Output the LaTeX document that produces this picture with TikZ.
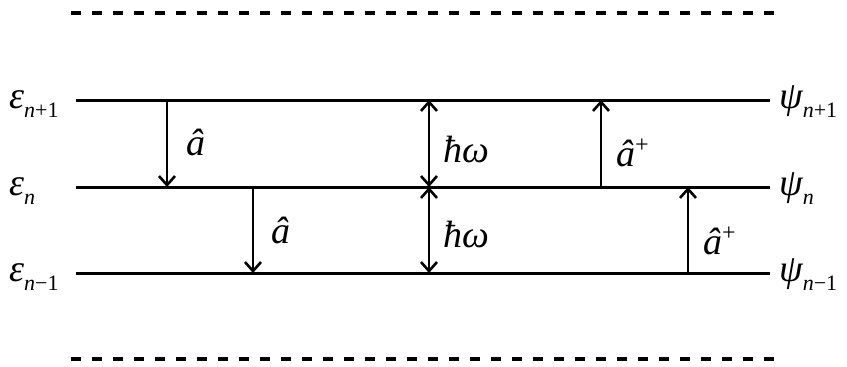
\documentclass[tikz,border=0pt]{standalone}
\usepackage{fontspec}
\setmainfont{Liberation Serif}
\newfontfamily\tnri{Liberation Serif Italic}
\usetikzlibrary{arrows.meta}
\newcommand\lvlsub[1]{\raisebox{-9pt}{\fontsize{22}{22}\selectfont #1}}
\newcommand\iv[1]{{\tnri #1}}
\begin{document}
\begin{tikzpicture}[x=1pt,y=-1pt,
  font=\fontsize{38}{42}\selectfont,
  level/.style={line width=3pt},
  dashlevel/.style={line width=3.4pt, dash pattern=on 10pt off 11pt},
  op/.style={line width=2.6pt, -{Straight Barb[length=9pt,width=16pt,line width=2.6pt]}},
  dbl/.style={line width=2.6pt, {Straight Barb[length=9pt,width=16pt,line width=2.6pt]}-{Straight Barb[length=9pt,width=16pt,line width=2.6pt]}},
  lbl/.style={anchor=base west, inner sep=0pt}]
\useasboundingbox (0,0) rectangle (847,367);
% dashed limits
\coordinate (dtl) at (71,13);  \coordinate (dtr) at (774,13);
\coordinate (dbl) at (71,359); \coordinate (dbr) at (774,359);
\draw[dashlevel] (dtl) -- (dtr);
\draw[dashlevel] (dbl) -- (dbr);
% levels
\coordinate (l1a) at (76,100); \coordinate (l1b) at (770,100);
\coordinate (l2a) at (76,187); \coordinate (l2b) at (770,187);
\coordinate (l3a) at (76,273); \coordinate (l3b) at (770,273);
\draw[level] (l1a) -- (l1b);
\draw[level] (l2a) -- (l2b);
\draw[level] (l3a) -- (l3b);
% level labels
\node[lbl] (e1) at (9,108) {\iv{ε}\lvlsub{\iv{n}+1}};
\node[lbl] (e2) at (9,195) {\iv{ε}\lvlsub{\iv{n}}};
\node[lbl] (e3) at (9,281) {\iv{ε}\lvlsub{\iv{n}−1}};
\node[lbl] (p1) at (779,108) {\iv{ψ}\lvlsub{\iv{n}+1}};
\node[lbl] (p2) at (779,195) {\iv{ψ}\lvlsub{\iv{n}}};
\node[lbl] (p3) at (779,281) {\iv{ψ}\lvlsub{\iv{n}−1}};
% annihilation arrows
\coordinate (a1s) at (167,100); \coordinate (a1e) at (167,187);
\coordinate (a2s) at (253,187); \coordinate (a2e) at (253,273);
\draw[op] (a1s) -- (a1e);
\draw[op] (a2s) -- (a2e);
\node[lbl] (la1) at (186,155) {\iv{â}};
\node[lbl] (la2) at (271,243) {\iv{â}};
% energy arrows
\coordinate (h1s) at (429,100); \coordinate (h1e) at (429,187);
\coordinate (h2s) at (429,187); \coordinate (h2e) at (429,273);
\draw[dbl] (h1s) -- (h1e);
\draw[dbl] (h2s) -- (h2e);
\node[lbl] (lh1) at (443,162) {\iv{ħω}};
\node[lbl] (lh2) at (443,247) {\iv{ħω}};
% creation arrows
\coordinate (c1s) at (601,187); \coordinate (c1e) at (601,100);
\coordinate (c2s) at (688,273); \coordinate (c2e) at (688,187);
\draw[op] (c1s) -- (c1e);
\draw[op] (c2s) -- (c2e);
\node[lbl] (lc1) at (616,166) {\iv{â}\raisebox{14pt}{\fontsize{24}{24}\selectfont +}};
\node[lbl] (lc2) at (703,254) {\iv{â}\raisebox{14pt}{\fontsize{24}{24}\selectfont +}};
\end{tikzpicture}
\end{document}
